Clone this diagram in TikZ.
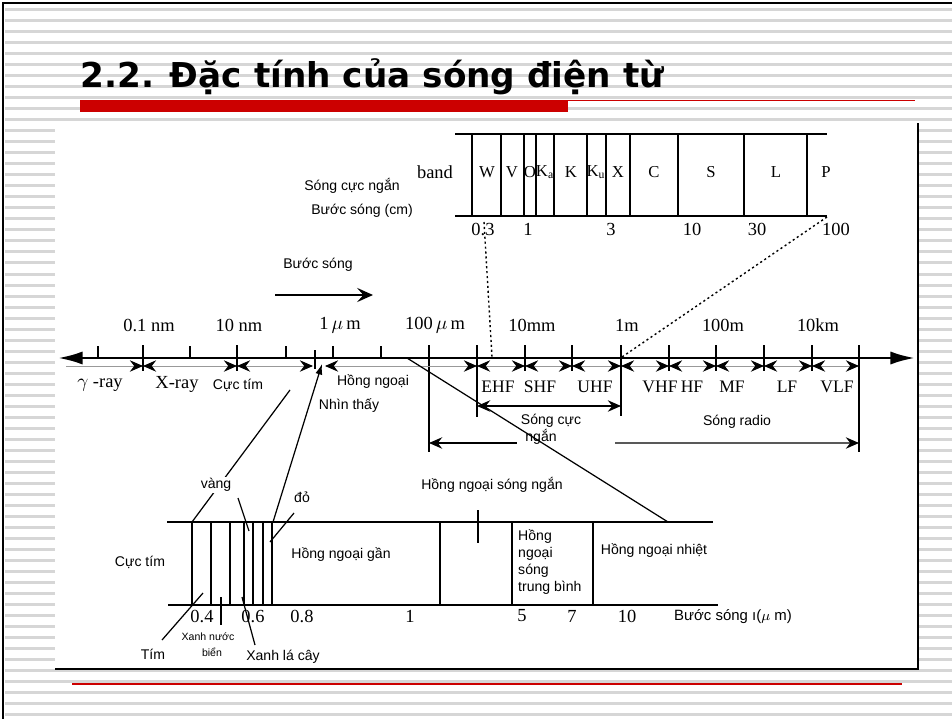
\documentclass[tikz,border=0pt]{standalone}
\usepackage{fontspec}
\setmainfont{Liberation Serif}
\newfontfamily\labelsans{Liberation Sans}
\newfontfamily\titlefont{DejaVu Sans}
\usetikzlibrary{arrows.meta}
\definecolor{slideRed}{HTML}{CC0000}
\definecolor{stripeGray}{HTML}{D6D6D6}

\begin{document}
\begin{tikzpicture}[x=0.02cm, y=-0.02cm,
    sanslbl/.style={font=\labelsans\fontsize{8}{9.6}\selectfont, inner sep=0.5pt},
    tinylbl/.style={font=\labelsans\fontsize{6}{7}\selectfont, inner sep=0.5pt},
    seriflbl/.style={font=\fontsize{10.5}{12}\selectfont, inner sep=0.5pt},
    freqlbl/.style={font=\fontsize{10}{11}\selectfont, inner sep=0.5pt},
    bandlbl/.style={font=\fontsize{9.5}{10}\selectfont, inner sep=0pt},
    reghead/.tip={Stealth[length=7.5pt, width=6.5pt, inset=2.5pt, color=black]},
    axisline/.style={line width=1.6pt, {Latex[length=14pt, width=7.5pt]}-{Latex[length=14pt, width=7.5pt]}},
    boxline/.style={line width=1.1pt},
    thinline/.style={line width=0.7pt},
    tickline/.style={line width=0.9pt},
    regarrow/.style={draw=black!40, line width=0.5pt, reghead-reghead},
    dotline/.style={line width=0.8pt, dash pattern=on 1.2pt off 1.6pt}]
  \useasboundingbox (0,0) rectangle (952,719);
  % slide background, stripes and frame
  \fill[white] (0,0) rectangle (952,719);
  \foreach \k in {0,...,64}
    \fill[stripeGray] (5,{8.5+11*\k}) rectangle (952,{11.5+11*\k});
  \draw[line width=1.2pt] (3,719) -- (3,3) -- (952,3);
  \node[anchor=base west, inner sep=0pt, font=\titlefont\bfseries\fontsize{19.5}{22}\selectfont] (title) at (80,88) {2.2. Đặc tính của sóng điện từ};
  \fill[slideRed] (80,100) rectangle (568,112);
  \draw[slideRed, line width=0.8pt] (568,100.5) -- (915,100.5);
  \draw[slideRed, line width=0.7pt] (72,684) -- (902,684);
  \fill[white] (55,123) rectangle (918,669);
  \draw[line width=1.3pt] (55,669) -- (918,669) -- (918,123);

  % microwave bands (cm)
  \draw[boxline] (455,134) -- (827,134);
  \draw[boxline] (455,216) -- (827,216);
  \foreach \x in {472,501,524,536,554,587,606,630,678,744,807}
    \draw[boxline] (\x,134) -- (\x,216);
  \node[font=\fontsize{10.5}{12}\selectfont] (bandhdr) at (435,172) {band};
  \foreach \x/\t [count=\i] in {487/W, 512/V, 530/O, 545/K\textsubscript{a}, 571/K,
      596/K\textsubscript{u}, 618/X, 654/C, 711/S, 776/L, 826/P}
    \node[bandlbl] (bnd\i) at (\x,172) {\t};
  \node[sanslbl] (microlbl) at (352,186) {Sóng cực ngắn};
  \node[sanslbl] (cmlbl) at (362,211) {Bước sóng (cm)};
  \foreach \x/\t [count=\i] in {483/0.3, 528/1, 611/3, 692/10, 757/30, 836/100}
    \node[font=\fontsize{10.5}{12}\selectfont, inner sep=0.5pt] (cm\i) at (\x,229) {\t};

  % wavelength arrow
  \node[sanslbl] (wavetxt) at (318,265) {Bước sóng};
  \coordinate (wavea) at (275,295);
  \coordinate (waveb) at (373,295);
  \draw[line width=1.4pt, -{Stealth[length=9pt, width=8pt, inset=3.5pt]}] (wavea) -- (waveb);

  % main axis with ticks
  \draw[axisline] (58,358) -- (915,358);
  \foreach \x in {98,190,286,333,381}
    \draw[tickline] (\x,346) -- (\x,358);
  \foreach \x in {143,237,525,572,669,716,764,812}
    \draw[tickline] (\x,345) -- (\x,371);
  \draw[tickline] (315,350) -- (315,369);
  \draw[tickline] (429,345) -- (429,452);
  \draw[tickline] (477,345) -- (477,417);
  \draw[tickline] (621,345) -- (621,416);
  \draw[tickline] (859,345) -- (859,452);
  \foreach \x/\t [count=\i] in {149/0.1 nm, 239/10 nm, 340/{1\,$\mu$\,m}, 435/{100\,$\mu$\,m},
      532/10mm, 627/1m, 723/100m, 818/10km}
    \node[seriflbl] (scale\i) at (\x,325) {\t};

  % region arrows along the axis
  \draw[regarrow, -reghead] (66,366) -- (143,366);
  \foreach \a/\b in {143/237, 237/313, 325/477, 477/525, 525/572, 572/621,
      621/669, 669/716, 716/764, 764/812, 812/859}
    \draw[regarrow] (\a,366) -- (\b,366);
  \node[seriflbl] (gamma) at (100,385) {$\gamma$ -ray};
  \node[seriflbl] (xray) at (177,384) {X-ray};
  \node[sanslbl] (uvtop) at (238,385) {Cực tím};
  \node[sanslbl] (irtop) at (373,382) {Hồng ngoại};
  \node[sanslbl] (vistop) at (349,406) {Nhìn thấy};
  \foreach \x/\t in {498/EHF, 540/SHF, 595/UHF, 660/VHF, 692/HF, 732/MF, 787/LF, 837/VLF}
    \node[freqlbl] (f\t) at (\x,387) {\t};

  % brackets below the axis
  \draw[thinline, reghead-reghead] (477,406) -- (621,406);
  \node[sanslbl] (micro1) at (551,421) {Sóng cực};
  \node[sanslbl] (micro2) at (541,437) {ngắn};
  \draw[thinline, reghead-] (429,443) -- (517,443);
  \draw[thinline, draw=black!65, -reghead] (615,443) -- (859,443);
  \node[sanslbl] (radio) at (737,422) {Sóng radio};

  % zoom lines to the band table
  \coordinate (cmA) at (484,222);
  \coordinate (cmB) at (827,217);
  \coordinate (axA) at (492,357);
  \coordinate (axB) at (622,357);
  \draw[dotline] (cmA) -- (axA);
  \draw[dotline] (cmB) -- (axB);

  % lower box: visible and infrared
  \draw[boxline] (167,522) -- (713,522);
  \draw[boxline] (168,605) -- (718,605);
  \foreach \x in {192,272,440,512,593}
    \draw[boxline] (\x,522) -- (\x,605);
  \foreach \x in {211,230,244,253,263}
    \draw[thinline] (\x,522) -- (\x,605);
  \draw[thinline] (478,510) -- (478,543);
  \coordinate (irA) at (407,358);
  \coordinate (irB) at (668,522);
  \draw[thinline] (irA) -- (irB);
  \coordinate (visA) at (192,522);
  \coordinate (visB) at (290,390);
  \draw[thinline] (visA) -- (visB);
  \coordinate (redA) at (273,522);
  \coordinate (redB) at (322,364);
  \draw[thinline, -{Latex[length=6pt, width=4pt]}] (redA) -- (redB);

  \node[sanslbl, fill=white] (vang) at (216,485) {vàng};
  \node[sanslbl] (do) at (302,497) {đỏ};
  \node[sanslbl] (irshort) at (492,485) {Hồng ngoại sóng ngắn};
  \node[sanslbl] (uvlow) at (140,562) {Cực tím};
  \node[sanslbl] (irnear) at (341,555) {Hồng ngoại gần};
  \node[sanslbl, anchor=west, align=left] (irmid) at (517,562) {Hồng\\ngoại\\sóng\\trung bình};
  \node[sanslbl] (irheat) at (654,551) {Hồng ngoại nhiệt};
  \foreach \x/\t [count=\i] in {202/0.4, 253/0.6, 302/0.8, 410/1, 522/5, 572/7, 627/10}
    \node[font=\fontsize{10.5}{12}\selectfont, inner sep=0.5pt] (um\i) at (\x,616) {\t};
  \node[sanslbl, font=\labelsans\fontsize{8.5}{10}\selectfont] (umlbl) at (733,617) {Bước sóng ı($\mu$ m)};
  \node[sanslbl] (tim) at (153,654) {Tím};
  \node[tinylbl] (xnb1) at (208,637) {Xanh nước};
  \node[tinylbl] (xnb2) at (212,652) {biển};
  \node[sanslbl] (xlc) at (283,657) {Xanh lá cây};

  % colour pointers
  \coordinate (yelA) at (238,498);
  \coordinate (yelB) at (249,531);
  \draw[thinline] (yelA) -- (yelB);
  \coordinate (doA) at (294,513);
  \coordinate (doB) at (270,542);
  \draw[thinline] (doA) -- (doB);
  \coordinate (timA) at (203,593);
  \coordinate (timB) at (162,640);
  \draw[thinline] (timA) -- (timB);
  \coordinate (xnbA) at (221,597);
  \coordinate (xnbB) at (221,625);
  \draw[thinline] (xnbA) -- (xnbB);
  \coordinate (xlcA) at (242,597);
  \coordinate (xlcB) at (255,645);
  \draw[thinline] (xlcA) -- (xlcB);
\end{tikzpicture}
\end{document}
